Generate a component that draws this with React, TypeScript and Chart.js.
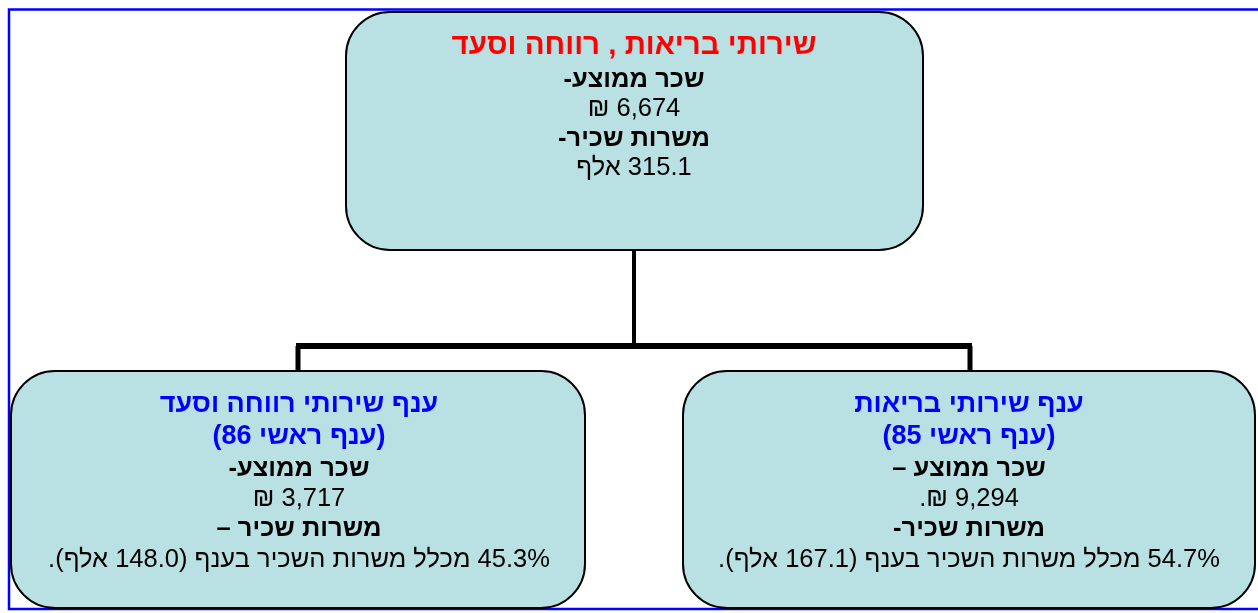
import React, { useEffect, useRef } from "react";
import { Chart, registerables } from "chart.js";

Chart.register(...registerables);

// ---- data ----
const rootTitle = "שירותי בריאות , רווחה וסעד";
const rootLines = ["שכר ממוצע-", "6,674 ₪", "משרות שכיר-", "315.1 אלף"];

const welfareTitle = ["ענף שירותי רווחה וסעד", "(ענף ראשי 86)"];
const welfareLines = ["שכר ממוצע-", "3,717 ₪", "משרות שכיר –", "45.3% מכלל משרות השכיר בענף (148.0 אלף)."];

const healthTitle = ["ענף שירותי בריאות", "(ענף ראשי 85)"];
const healthLines = ["שכר ממוצע –", "9,294 ₪.", "משרות שכיר-", "54.7% מכלל משרות השכיר בענף (167.1 אלף)."];

// ---- layout (in scale units = px) ----
const W = 1258;
const H = 613;
const FONT = '"Liberation Sans", Arial, sans-serif';
const FILL = "#B9E0E3";

type Line = { text: string; color: string; bold: boolean; size: number };
type Box = { x: number; y: number; w: number; h: number; cx: number; ys: number[]; lines: Line[] };

const body = (t: string, i: number): Line => ({ text: t, color: "#000", bold: i % 2 === 0, size: 25.5 });

const boxes: Box[] = [
  {
    x: 346, y: 12, w: 577, h: 238, cx: 634, ys: [45.5, 79.5, 108.5, 138.5, 167.5],
    lines: [{ text: rootTitle, color: "#FF0000", bold: true, size: 29.5 }, ...rootLines.map(body)],
  },
  {
    x: 11, y: 371, w: 574, h: 237, cx: 299, ys: [404.5, 436.5, 468.5, 498.5, 528.5, 559.5],
    lines: [...welfareTitle.map((t) => ({ text: t, color: "#0000FF", bold: true, size: 27 })), ...welfareLines.map(body)],
  },
  {
    x: 683, y: 371, w: 572, h: 237, cx: 969, ys: [404.5, 436.5, 468.5, 498.5, 528.5, 559.5],
    lines: [...healthTitle.map((t) => ({ text: t, color: "#0000FF", bold: true, size: 27 })), ...healthLines.map(body)],
  },
];

const connectors = [
  { x1: 634, y1: 250, x2: 634, y2: 347, w: 4 },
  { x1: 296, y1: 346, x2: 972, y2: 346, w: 6 },
  { x1: 298, y1: 346, x2: 298, y2: 372, w: 5 },
  { x1: 970, y1: 346, x2: 970, y2: 372, w: 5 },
];

const orgPlugin = {
  id: "orgChart",
  afterDraw(chart: any) {
    const { ctx } = chart;
    const xs = chart.scales.x;
    const ys = chart.scales.y;
    const px = (v: number) => xs.getPixelForValue(v);
    const py = (v: number) => ys.getPixelForValue(v);
    ctx.save();
    // outer frame
    ctx.strokeStyle = "#0000FF";
    ctx.lineWidth = 2.5;
    ctx.beginPath();
    ctx.moveTo(px(W + 5), py(9.5));
    ctx.lineTo(px(9), py(9.5));
    ctx.lineTo(px(9), py(609));
    ctx.lineTo(px(W + 5), py(609));
    ctx.stroke();

    // connectors
    ctx.strokeStyle = "#000";
    ctx.lineCap = "butt";
    for (const c of connectors) {
      ctx.lineWidth = c.w;
      ctx.beginPath();
      ctx.moveTo(px(c.x1), py(c.y1));
      ctx.lineTo(px(c.x2), py(c.y2));
      ctx.stroke();
    }

    // boxes
    for (const b of boxes) {
      const x = px(b.x), y = py(b.y), w = px(b.x + b.w) - x, h = py(b.y + b.h) - y;
      ctx.beginPath();
      ctx.roundRect(x, y, w, h, 44);
      ctx.fillStyle = FILL;
      ctx.fill();
      ctx.lineWidth = 2;
      ctx.strokeStyle = "#000";
      ctx.stroke();

      ctx.direction = "rtl";
      ctx.textAlign = "center";
      ctx.textBaseline = "middle";
      b.lines.forEach((l, i) => {
        ctx.font = `${l.bold ? "bold " : ""}${l.size}px ${FONT}`;
        ctx.fillStyle = l.color;
        ctx.fillText(l.text, px(b.cx), py(b.ys[i]));
      });
    }
    ctx.restore();
  },
};

export default function App() {
  const ref = useRef<HTMLCanvasElement | null>(null);
  useEffect(() => {
    document.body.style.margin = "0";
    document.body.style.background = "#fff";
    const chart = new Chart(ref.current as HTMLCanvasElement, {
      type: "scatter",
      data: { datasets: [{ data: [], pointRadius: 0 }] },
      options: {
        animation: false,
        responsive: false,
        events: [],
        layout: { padding: 0 },
        plugins: { legend: { display: false }, tooltip: { enabled: false } },
        scales: {
          x: { type: "linear", min: 0, max: W, display: false },
          y: { type: "linear", min: 0, max: H, reverse: true, display: false },
        },
      },
      plugins: [orgPlugin],
    });
    return () => chart.destroy();
  }, []);
  return (
    <div style={{ width: W, height: H, background: "#fff" }}>
      <canvas ref={ref} width={W} height={H} style={{ display: "block" }} />
    </div>
  );
}
